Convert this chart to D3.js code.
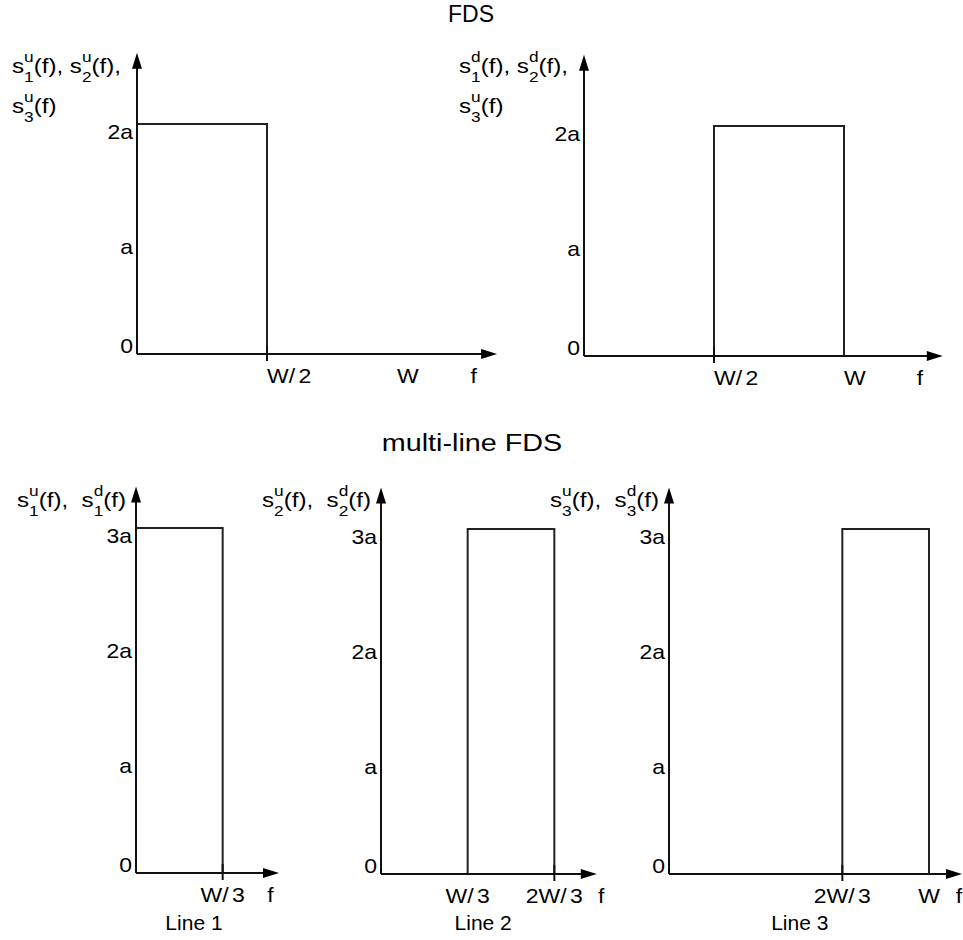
<!DOCTYPE html>
<html>
  <head>
    <title>FDS and multi-line FDS spectra</title>
    <script src="https://d3js.org/d3.v7.min.js"></script>
    <style>
      body { margin: 0; background: #fff; }
      text { font-family: "Liberation Sans", Arial, sans-serif; fill: #000; }
      .title { font-size: 23px; }
      .tick-label { font-size: 20px; }
      .axis-label { font-size: 21px; }
      .line-name { font-size: 21px; }
    </style>
  </head>
  <body>
    <div id="chart"></div>
    <script>
      // Data: bands are in units of W, levels in units of a
      const titles = ["FDS", "multi-line FDS"];

      const topBands = [[0, 0.5], [0.5, 1]];
      const topLevel = 2;
      const topYTicks = [0, 1, 2];
      const topYLabels = ["0", "a", "2a"];
      const topXTicks = [0.5, 1];
      const topXLabels = ["W/2", "W"];
      const topMarked = [0.5, 0.5];
      const topAxisLabels = [
        [[["u", "1", "(f), "], ["u", "2", "(f),"]], [["u", "3", "(f)"]]],
        [[["d", "1", "(f), "], ["d", "2", "(f),"]], [["u", "3", "(f)"]]]
      ];

      const bottomBands = [[0, 1 / 3], [1 / 3, 2 / 3], [2 / 3, 1]];
      const bottomLevel = 3;
      const bottomYTicks = [0, 1, 2, 3];
      const bottomYLabels = ["0", "a", "2a", "3a"];
      const bottomXTicks = [[1 / 3], [1 / 3, 2 / 3], [2 / 3, 1]];
      const bottomXLabels = [["W/3"], ["W/3", "2W/3"], ["2W/3", "W"]];
      const bottomMarked = [1 / 3, 2 / 3, 2 / 3];
      const lineNames = ["Line 1", "Line 2", "Line 3"];
      const bottomAxisLabels = [
        [[["u", "1", "(f),  "], ["d", "1", "(f)"]]],
        [[["u", "2", "(f),  "], ["d", "2", "(f)"]]],
        [[["u", "3", "(f),  "], ["d", "3", "(f)"]]]
      ];

      // Layout
      const width = 963, height = 940;
      const unitW = 260, unitA = 115;
      const stretch = 1.15; // the original lettering is a bit wide
      const topLayout = [
        { x0: 137, y0: 354, xEnd: 1.385, yEnd: 2.62, fAt: 1.283 },
        { x0: 584, y0: 356, xEnd: 1.38, yEnd: 2.62, fAt: 1.28 }
      ];
      const bottomLayout = [
        { x0: 136, y0: 873, xEnd: 0.55, yEnd: 3.36, fAt: 0.505, nameAt: 0.223 },
        { x0: 381, y0: 874, xEnd: 0.83, yEnd: 3.36, fAt: 0.835, nameAt: 0.393 },
        { x0: 669, y0: 874, xEnd: 1.127, yEnd: 3.36, fAt: 1.103, nameAt: 0.503 }
      ];

      const svg = d3
        .select("#chart")
        .append("svg")
        .attr("width", width)
        .attr("height", height);

      // text placed at (x, y), widened horizontally
      function wideText(sel, cls, x, y, sx) {
        return sel.append("text")
          .attr("class", cls)
          .attr("transform", `translate(${x},${y}) scale(${sx},1)`);
      }

      // titles
      wideText(svg, "title", 471, 22, 1.0)
        .attr("text-anchor", "middle").text(titles[0]);
      wideText(svg, "title", 472, 451, 1.25)
        .attr("text-anchor", "middle").text(titles[1]);

      function drawAxisLabel(g, x, y, lines) {
        const supW = 0.556 * 15;
        lines.forEach((parts, li) => {
          const t = wideText(g, "axis-label", x, y + li * 40, stretch)
            .attr("xml:space", "preserve");
          parts.forEach((p) => {
            t.append("tspan").text("s");
            t.append("tspan").attr("dy", -11).style("font-size", "15px").text(p[0]);
            t.append("tspan").attr("dx", -supW).attr("dy", 20).style("font-size", "15px").text(p[1]);
            t.append("tspan").attr("dy", -9).text(p[2]);
          });
        });
      }

      function slashLabel(t, s) {
        // "W/3" drawn with a small gap after the slash, as in the original
        const i = s.indexOf("/");
        t.append("tspan").text(s.slice(0, i + 1));
        t.append("tspan").attr("dx", 3).text(s.slice(i + 1));
      }

      function drawPanel(lay, band, level, yTicks, yLabels, xTicks, xLabels, marked, xAnchor) {
        const x = d3.scaleLinear().domain([0, 1]).range([lay.x0, lay.x0 + unitW]);
        const y = d3.scaleLinear().domain([0, 1]).range([lay.y0, lay.y0 - unitA]);
        const g = svg.append("g");

        // spectrum block
        const pts = [[band[0], 0], [band[0], level], [band[1], level], [band[1], 0]];
        g.append("path")
          .attr("d", d3.line().x((d) => x(d[0])).y((d) => y(d[1]))(pts))
          .attr("fill", "none")
          .attr("stroke", "#222")
          .attr("stroke-width", 2);

        // axes with arrow heads
        g.append("line")
          .attr("x1", x(0)).attr("y1", y(0))
          .attr("x2", x(0)).attr("y2", y(lay.yEnd) + 14)
          .attr("stroke", "#111").attr("stroke-width", 2);
        g.append("path")
          .attr("d", `M${x(0)},${y(lay.yEnd)} l-5,16 l10,0 z`)
          .attr("fill", "#000");
        g.append("line")
          .attr("x1", x(0)).attr("y1", y(0))
          .attr("x2", x(lay.xEnd) - 14).attr("y2", y(0))
          .attr("stroke", "#111").attr("stroke-width", 2);
        g.append("path")
          .attr("d", `M${x(lay.xEnd)},${y(0)} l-16,-5 l0,10 z`)
          .attr("fill", "#000");

        // small tick mark
        g.append("line")
          .attr("x1", x(marked)).attr("x2", x(marked))
          .attr("y1", y(0) - 9).attr("y2", y(0) + 7)
          .attr("stroke", "#111").attr("stroke-width", 2);

        // y tick labels
        yTicks.forEach((v, i) => {
          wideText(g, "tick-label", x(0) - 4, v === 0 ? y(0) - 1 : y(v) + 15, stretch)
            .attr("text-anchor", "end")
            .text(yLabels[i]);
        });

        // x tick labels
        xTicks.forEach((v, i) => {
          const t = wideText(g, "tick-label", x(v), y(0) + 29, stretch)
            .attr("text-anchor", xAnchor);
          if (xLabels[i].includes("/")) slashLabel(t, xLabels[i]);
          else t.text(xLabels[i]);
        });

        wideText(g, "tick-label", x(lay.fAt), y(0) + 29, stretch).text("f");

        return { g, x, y };
      }

      topLayout.forEach((lay, i) => {
        const p = drawPanel(lay, topBands[i], topLevel, topYTicks, topYLabels,
          topXTicks, topXLabels, topMarked[i], "start");
        drawAxisLabel(p.g, lay.x0 - 125, 73, topAxisLabels[i]);
      });

      bottomLayout.forEach((lay, i) => {
        const p = drawPanel(lay, bottomBands[i], bottomLevel, bottomYTicks, bottomYLabels,
          bottomXTicks[i], bottomXLabels[i], bottomMarked[i], "middle");
        drawAxisLabel(p.g, lay.x0 - 119, 507, bottomAxisLabels[i]);
        p.g.append("text").attr("class", "line-name")
          .attr("x", p.x(lay.nameAt)).attr("y", 930)
          .attr("text-anchor", "middle")
          .text(lineNames[i]);
      });
    </script>
  </body>
</html>
